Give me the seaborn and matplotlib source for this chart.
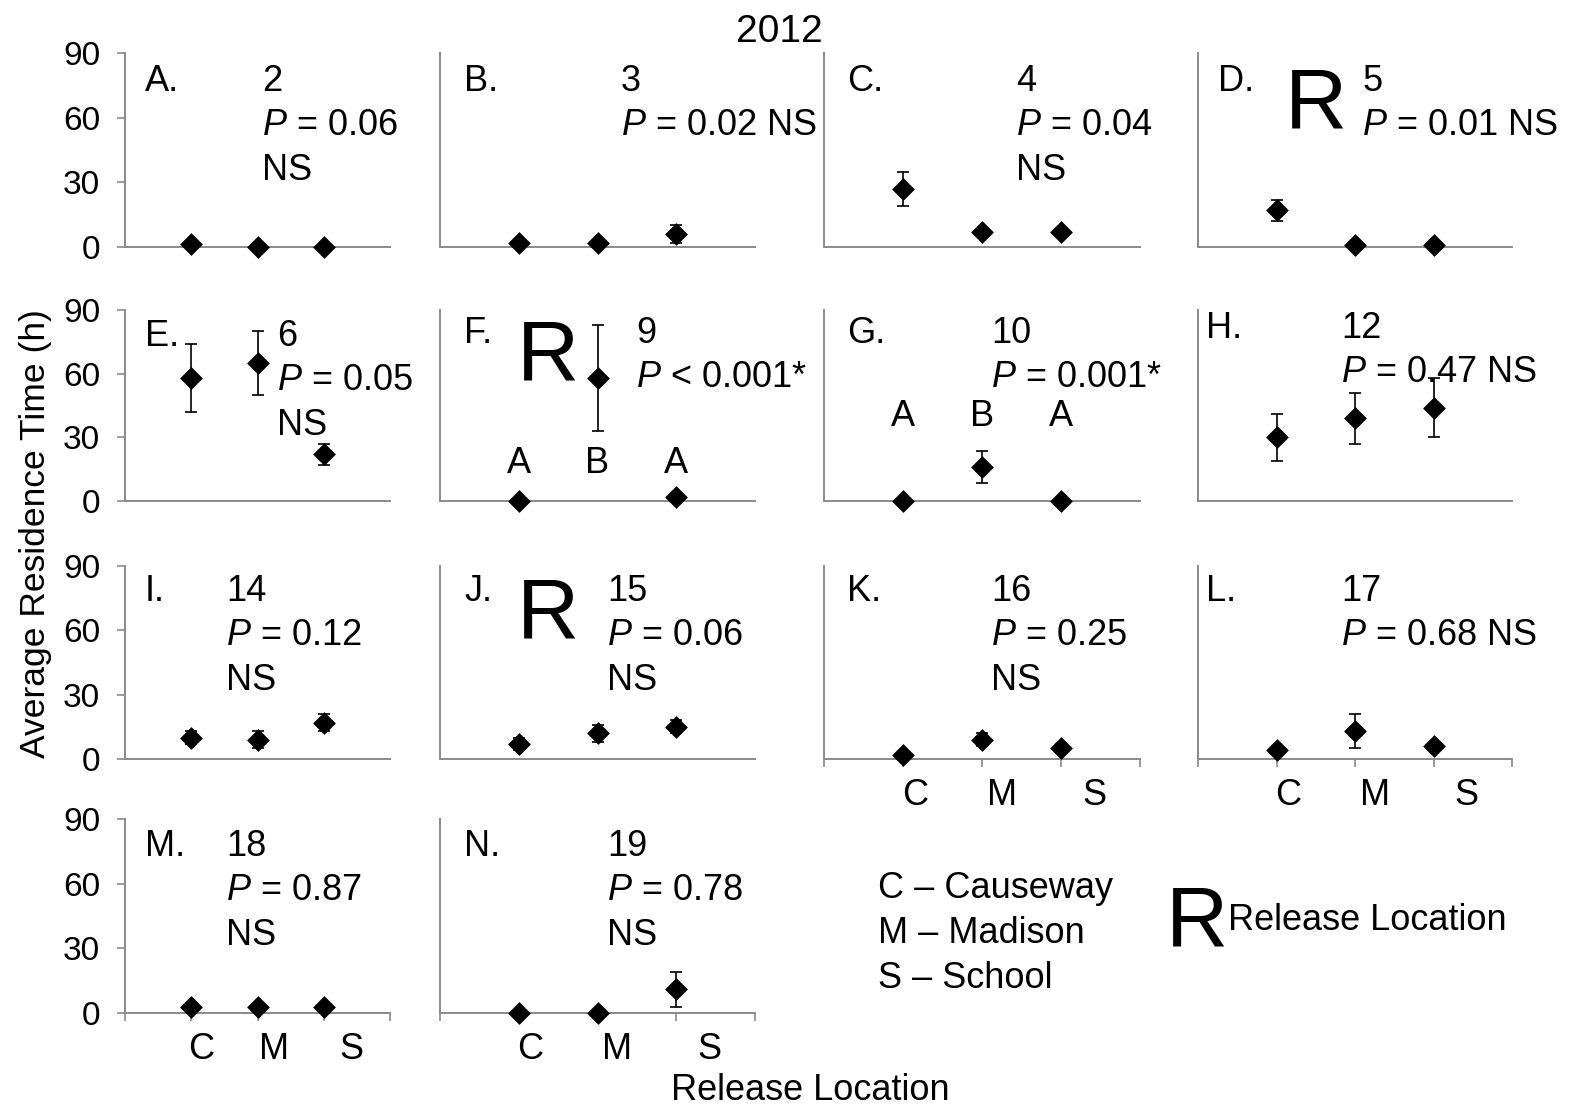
import numpy as np
import pandas as pd
import matplotlib
matplotlib.use("Agg")
import matplotlib.pyplot as plt
import seaborn as sns

# data (hours)
panels = ["A.", "B.", "C.", "D.", "E.", "F.", "G.", "H.", "I.", "J.", "K.", "L.", "M.", "N."]
weeks = ["2", "3", "4", "5", "6", "9", "10", "12", "14", "15", "16", "17", "18", "19"]
p_vals = ["= 0.06", "= 0.02", "= 0.04", "= 0.01", "= 0.05", "< 0.001", "= 0.001",
          "= 0.47", "= 0.12", "= 0.06", "= 0.25", "= 0.68", "= 0.87", "= 0.78"]
sig = ["NS", "NS", "NS", "NS", "NS", "*", "*", "NS", "NS", "NS", "NS", "NS", "NS", "NS"]
locations = ["C", "M", "S"]
mean_C = [1.5, 2, 27, 17, 58, 0, 0, 30, 10, 7, 2, 4, 3, 0]
mean_M = [0, 2, 7, 1, 65, 58, 16, 39, 9, 12, 9, 13, 3, 0]
mean_S = [0, 6, 7, 1, 22, 2, 0, 44, 17, 15, 5, 6, 3, 11]
err_C = [0, 0, 8, 5, 16, 0, 0, 11, 3, 3, 0, 0, 0, 0]
err_M = [0, 0, 0, 0, 15, 25, 7.5, 12, 4, 4, 3, 8, 0, 0]
err_S = [0, 4, 0, 0, 5, 0, 0, 14, 4, 3, 2, 0, 0, 8]
release = ["D.", "F.", "J."]
groups = {"F.": ["A", "B", "A"], "G.": ["A", "B", "A"]}
legend_lines = ["C \u2013 Causeway", "M \u2013 Madison", "S \u2013 School"]

sns.set_theme(style="white")
plt.rcParams["font.family"] = ["Liberation Sans", "DejaVu Sans"]
plt.rcParams["mathtext.fontset"] = "custom"
plt.rcParams["mathtext.rm"] = "Liberation Sans"
plt.rcParams["mathtext.it"] = "Liberation Sans:italic"
plt.rcParams["text.color"] = "black"
plt.rcParams["xtick.color"] = "black"
plt.rcParams["ytick.color"] = "black"

W, H = 1573, 1111
fig = plt.figure(figsize=(W / 100, H / 100), dpi=100)
fig.patch.set_facecolor("white")

def fx(x):
    return x / W

def fy(y):
    return 1 - y / H

cols = [(125, 390), (440, 755), (824, 1140), (1198, 1512)]
rows = [(53, 247), (310, 501), (566, 759), (819, 1013)]

# text layout per panel: letter x, number x, first line centre y, NS inline?, R x
layout = [
    (145, 262, 78, False, None), (464, 621, 78, True, None),
    (847, 1016, 78, False, None), (1218, 1362, 78, True, 1285),
    (145, 277, 333, False, None), (464, 636, 330, True, 517),
    (847, 991, 330, True, None), (1206, 1341, 325, True, None),
    (145, 226, 588, False, None), (464, 607, 588, False, 517),
    (847, 991, 588, False, None), (1206, 1341, 588, True, None),
    (145, 226, 843, False, None), (464, 607, 843, False, None),
]
tick_panels = ["K.", "L.", "M.", "N."]
FS = 26
grey = "#8a8a8a"

for i, name in enumerate(panels):
    r, c = divmod(i, 4)
    x0, x1 = cols[c]
    yt, yb = rows[r]
    ax = fig.add_axes([fx(x0), fy(yb), fx(x1 - x0), (yb - yt) / H])
    df = pd.DataFrame({"pos": [1, 2, 3], "loc": locations,
                       "mean": [mean_C[i], mean_M[i], mean_S[i]],
                       "err": [err_C[i], err_M[i], err_S[i]]})
    e = df[df["err"] > 0]
    ax.errorbar(e["pos"], e["mean"], yerr=e["err"], fmt="none", ecolor="black",
                elinewidth=1.2, capsize=4.5, capthick=1.2, zorder=2, clip_on=False)
    sns.scatterplot(data=df, x="pos", y="mean", ax=ax, marker="D", s=135,
                    color="black", edgecolor="black", linewidth=0, zorder=3,
                    clip_on=False, legend=False)
    ax.set_xlim(0, 4)
    ax.set_ylim(0, 90)
    ax.set_xlabel("")
    ax.set_ylabel("")
    for s in ["top", "right"]:
        ax.spines[s].set_visible(False)
    for s in ["left", "bottom"]:
        ax.spines[s].set_color(grey)
        ax.spines[s].set_linewidth(1.4)
    ax.set_facecolor("none")
    if c == 0:
        ax.set_yticks([0, 30, 60, 90])
        ax.tick_params(axis="y", left=True, length=6, width=1.2, color=grey,
                       labelsize=24, pad=12, direction="out", labelcolor="black")
    else:
        ax.set_yticks([])
    if name in tick_panels:
        ax.set_xticks([0, 1, 2, 3, 4], minor=True)
        ax.set_xticks([1.15, 2.25, 3.42])
        ax.set_xticklabels(locations)
        ax.tick_params(axis="x", which="minor", bottom=True, length=6, width=1.2,
                       color=grey, direction="out")
        ax.tick_params(axis="x", which="major", bottom=True, length=0,
                       labelsize=FS, pad=14, labelcolor="black")
    else:
        ax.set_xticks([])

    lx, nx, yc, inline, rx = layout[i]
    off = 13  # centre -> baseline
    fig.text(fx(lx), fy(yc + off), name, fontsize=FS, va="baseline")
    fig.text(fx(nx), fy(yc + off), weeks[i], fontsize=FS, va="baseline")
    ptxt = r"$\mathit{P}$ " + p_vals[i]
    if sig[i] == "*":
        ptxt += "*"
    elif inline:
        ptxt += " NS"
    fig.text(fx(nx), fy(yc + 44 + off), ptxt, fontsize=FS, va="baseline")
    if sig[i] == "NS" and not inline:
        fig.text(fx(nx), fy(yc + 89 + off), "NS", fontsize=FS, va="baseline")
    if rx is not None:
        fig.text(fx(rx), fy(yc + 50), "R", fontsize=62, va="baseline",
                 fontstretch="condensed")
    if name in groups:
        gy = 460 if name == "F." else 413
        for k, g in enumerate(groups[name]):
            ax.text(k + 1, (yb - gy - off) / (yb - yt) * 90, g, fontsize=FS,
                    ha="center", va="baseline")

fig.text(fx(779), fy(42), "2012", fontsize=28, ha="center", va="baseline")
fig.text(fx(36), fy(534), "Average Residence Time (h)", fontsize=25.5,
         rotation=90, ha="center", va="center")
fig.text(fx(810), fy(1090), "Release Location", fontsize=FS, ha="center", va="center")

for k, line in enumerate(legend_lines):
    fig.text(fx(878), fy(885 + 45 * k + 13), line, fontsize=FS, va="baseline")
fig.text(fx(1166), fy(945), "R", fontsize=62, va="baseline")
fig.text(fx(1228), fy(917 + 13), "Release Location", fontsize=FS, va="baseline")

fig.savefig("out.png", dpi=100, facecolor="white")
